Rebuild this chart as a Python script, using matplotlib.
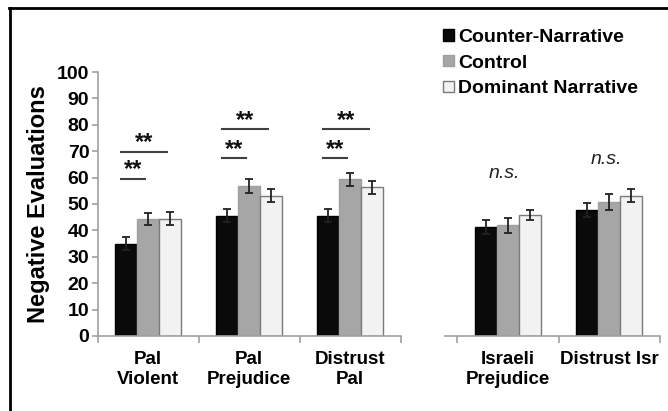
import numpy as np
import matplotlib.pyplot as plt
from matplotlib.lines import Line2D

plt.rcParams['font.family'] = ['Liberation Sans', 'DejaVu Sans']

# data
left_cats = ['Pal\nViolent', 'Pal\nPrejudice', 'Distrust\nPal']
right_cats = ['Israeli\nPrejudice', 'Distrust Isr']
series = ['Counter-Narrative', 'Control', 'Dominant Narrative']

left_vals = [[35.0, 45.6, 45.6],   # Counter-Narrative
             [44.3, 56.8, 59.4],   # Control
             [44.4, 53.2, 56.3]]   # Dominant Narrative
left_err = [[2.6, 2.5, 2.5],
            [2.2, 2.5, 2.5],
            [2.5, 2.5, 2.4]]
right_vals = [[41.2, 47.6],
              [41.9, 50.8],
              [45.8, 53.2]]
right_err = [[2.7, 2.6],
             [2.8, 3.1],
             [2.0, 2.5]]

# significance lines: (category, from series, to series, height)
sig_lines = [(0, 0, 1, 59.5), (0, 0, 2, 69.8),
             (1, 0, 1, 67.3), (1, 0, 2, 78.3),
             (2, 0, 1, 67.3), (2, 0, 2, 78.3)]
ns_labels = [(0, 61.7), (1, 66.7)]

colors = ['#0a0a0a', '#a6a6a6', '#f2f2f2']
edges = ['#000000', '#a0a0a0', '#7a7a7a']
axis_col = '#a0a0a0'
w = 0.218

fig = plt.figure(figsize=(6.68, 4.11), dpi=100)
ax1 = fig.add_axes([97.7 / 668, 0.1825, 303 / 668, 0.6423])
ax2 = fig.add_axes([445 / 668, 0.1825, 215 / 668, 0.6423])


def draw(ax, vals, errs, cats):
    x = np.arange(len(cats))
    for i in range(3):
        ax.bar(x + (i - 1) * w, vals[i], w, color=colors[i], edgecolor=edges[i],
               linewidth=1, label=series[i], zorder=2)
        ax.errorbar(x + (i - 1) * w, vals[i], yerr=errs[i], fmt='none',
                    ecolor='#222222', elinewidth=1.3, capsize=3, capthick=1.3, zorder=3)
    ax.set_ylim(0, 100)
    ax.set_xticks(np.arange(len(cats) + 1) - 0.5)
    ax.set_xticklabels([])
    ax.set_xticks(x, cats, minor=True)
    ax.tick_params(axis='x', which='major', direction='out', length=5,
                   color=axis_col, width=1.2)
    ax.tick_params(axis='x', which='minor', length=0, pad=11, labelsize=13.5)
    for lab in ax.get_xticklabels(minor=True):
        lab.set_fontweight('bold')
        lab.set_linespacing(1.2)
    for s in ['top', 'right']:
        ax.spines[s].set_visible(False)
    ax.spines['bottom'].set_color(axis_col)
    ax.spines['bottom'].set_linewidth(1.2)
    ax.set_facecolor('none')


draw(ax1, left_vals, left_err, left_cats)
draw(ax2, right_vals, right_err, right_cats)

ax1.set_xlim(-0.5, 2.5)
ax2.set_xlim(-0.62, 1.5)

ax1.set_yticks(np.arange(0, 101, 10))
ax1.tick_params(axis='y', direction='out', length=4, color=axis_col, width=1.2,
                pad=2, labelsize=14)
for lab in ax1.get_yticklabels():
    lab.set_fontweight('bold')
ax1.spines['left'].set_color(axis_col)
ax1.spines['left'].set_linewidth(1.2)
ax1.set_ylabel('Negative Evaluations', fontsize=17, fontweight='bold', labelpad=5)

ax2.spines['left'].set_visible(False)
ax2.set_yticks([])

for cat, a, b, y in sig_lines:
    x0 = cat + (a - 1) * w - 0.05
    x1 = cat + (b - 1) * w - 0.03
    ax1.plot([x0, x1], [y, y], color='#404040', lw=1.5, zorder=3)
    ax1.text((x0 + x1) / 2, y + 1.0, '**', ha='center', va='baseline',
             fontsize=17, fontweight='bold', color='#111111')

for cat, y in ns_labels:
    ax2.text(cat - 0.03, y, 'n.s.', ha='center', va='center', fontsize=14,
             style='italic', color='#222222')

handles, labels = ax1.get_legend_handles_labels()
leg = fig.legend(handles, labels, loc='upper left', bbox_to_anchor=(0.663, 0.93),
                 frameon=False, borderpad=0, borderaxespad=0, handlelength=0.55,
                 handleheight=0.55, handletextpad=0.25, labelspacing=0.45,
                 prop={'size': 14, 'weight': 'bold'})

# frame lines at the top and left edge of the picture
fig.add_artist(Line2D([9 / 668, 1], [1 - 8 / 411, 1 - 8 / 411],
                      transform=fig.transFigure, color='black', lw=2))
fig.add_artist(Line2D([10 / 668, 10 / 668], [0, 1 - 8 / 411],
                      transform=fig.transFigure, color='black', lw=2))

fig.savefig('out.png', dpi=100)
